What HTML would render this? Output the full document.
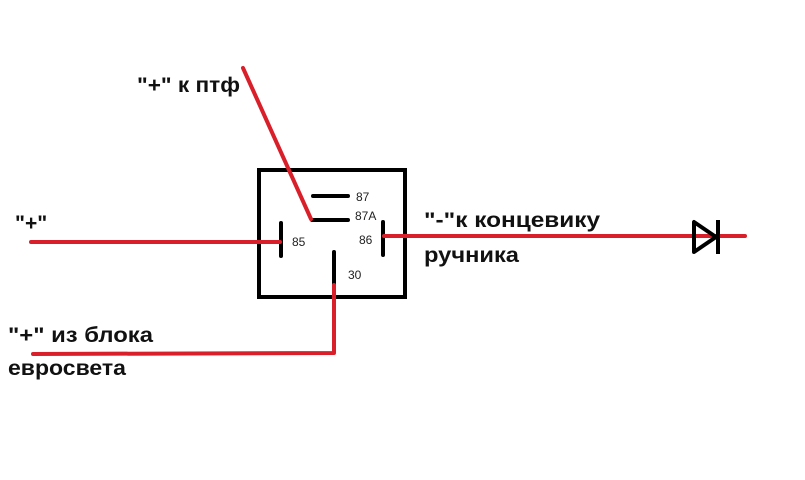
<!DOCTYPE html>
<html><head><meta charset="utf-8"><style>body{margin:0;background:#fff}</style></head><body>
<svg width="805" height="480" viewBox="0 0 805 480" xmlns="http://www.w3.org/2000/svg" style="display:block">
<rect width="805" height="480" fill="#fff"/>
<g font-family="Liberation Sans, DejaVu Sans, sans-serif" font-weight="bold" font-size="21" fill="#111">
<text x="137" y="92" textLength="103" lengthAdjust="spacingAndGlyphs">"+" к птф</text>
<text x="15" y="230">"+"</text>
<text x="8" y="342" textLength="145" lengthAdjust="spacingAndGlyphs">"+" из блока</text>
<text x="8" y="375" textLength="118" lengthAdjust="spacingAndGlyphs">евросвета</text>
<text x="424" y="227" textLength="176" lengthAdjust="spacingAndGlyphs">"-"к концевику</text>
<text x="424" y="262" textLength="95" lengthAdjust="spacingAndGlyphs">ручника</text>
</g>
<rect x="259" y="170" width="146" height="127" fill="none" stroke="#000" stroke-width="4"/>
<g stroke="#000" stroke-width="4" stroke-linecap="round">
<line x1="313" y1="196" x2="348" y2="196"/>
<line x1="312" y1="220" x2="348" y2="220"/>
<line x1="281" y1="223" x2="281" y2="256"/>
<line x1="383" y1="222" x2="383" y2="255"/>
<line x1="334" y1="252" x2="334" y2="284"/>
</g>
<g font-family="Liberation Sans, DejaVu Sans, sans-serif" font-size="12" fill="#222">
<text x="356" y="201">87</text>
<text x="355" y="220">87A</text>
<text x="292" y="246">85</text>
<text x="359" y="244">86</text>
<text x="348" y="279">30</text>
</g>
<g stroke="#d9202a" stroke-width="4" fill="none" stroke-linecap="round" stroke-linejoin="round">
<line x1="243" y1="68" x2="311" y2="219"/>
<line x1="31" y1="242" x2="280" y2="242"/>
<line x1="384" y1="236" x2="745" y2="236"/>
<polyline points="334,285 334,353 33,354"/>
</g>
<g stroke="#000" stroke-width="4" fill="none" stroke-linejoin="round">
<polygon points="694,222 694,252 716,237"/>
<line x1="718" y1="220" x2="718" y2="254"/>
</g>
</svg>
</body></html>
